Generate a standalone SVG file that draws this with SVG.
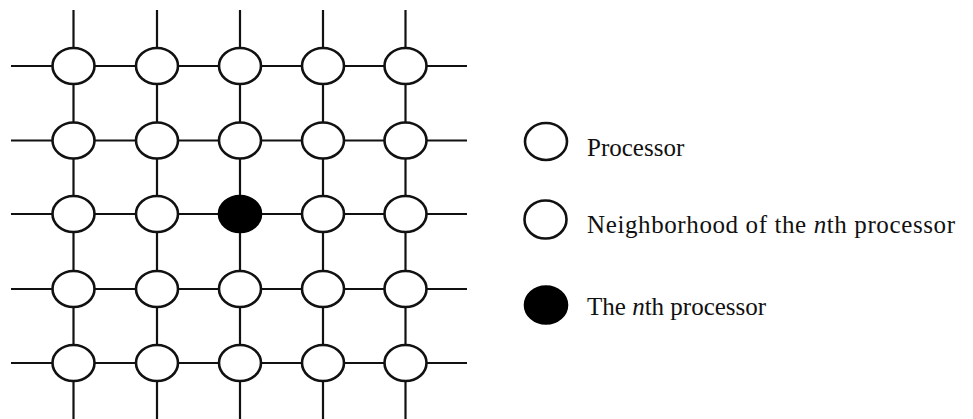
<svg xmlns="http://www.w3.org/2000/svg" width="973" height="419" viewBox="0 0 973 419">
<style>
.ln{stroke:#111;stroke-width:2.2;fill:none}
.p{fill:#fff;stroke:#111;stroke-width:2.6}
.n{fill:#000;stroke:#000;stroke-width:2.6}
.t{font-family:"Liberation Serif","Times New Roman",serif;font-size:25px;fill:#111}
</style>
<defs>
<ellipse id="pe" cx="0" cy="0" rx="21" ry="18"/>
</defs>
<rect width="973" height="419" fill="#fff"/>
<g id="connectors" class="ln">
<line x1="11" y1="66" x2="467" y2="66"/>
<line x1="11" y1="140.5" x2="467" y2="140.5"/>
<line x1="11" y1="214" x2="467" y2="214"/>
<line x1="11" y1="289" x2="467" y2="289"/>
<line x1="11" y1="363" x2="467" y2="363"/>
<line x1="73.5" y1="10" x2="73.5" y2="419"/>
<line x1="157" y1="10" x2="157" y2="419"/>
<line x1="240" y1="10" x2="240" y2="419"/>
<line x1="323" y1="10" x2="323" y2="419"/>
<line x1="405.5" y1="10" x2="405.5" y2="419"/>
</g>
<g id="r1">
<g id="n11"><use href="#pe" class="p" x="73.5" y="66"/></g>
<g id="n12"><use href="#pe" class="p" x="157" y="66"/></g>
<g id="n13"><use href="#pe" class="p" x="240" y="66"/></g>
<g id="n14"><use href="#pe" class="p" x="323" y="66"/></g>
<g id="n15"><use href="#pe" class="p" x="405.5" y="66"/></g>
</g>
<g id="r2">
<g id="n21"><use href="#pe" class="p" x="73.5" y="140.5"/></g>
<g id="n22"><use href="#pe" class="p" x="157" y="140.5"/></g>
<g id="n23"><use href="#pe" class="p" x="240" y="140.5"/></g>
<g id="n24"><use href="#pe" class="p" x="323" y="140.5"/></g>
<g id="n25"><use href="#pe" class="p" x="405.5" y="140.5"/></g>
</g>
<g id="r3">
<g id="n31"><use href="#pe" class="p" x="73.5" y="214"/></g>
<g id="n32"><use href="#pe" class="p" x="157" y="214"/></g>
<g id="n33"><use href="#pe" class="n" x="240" y="214"/></g>
<g id="n34"><use href="#pe" class="p" x="323" y="214"/></g>
<g id="n35"><use href="#pe" class="p" x="405.5" y="214"/></g>
</g>
<g id="r4">
<g id="n41"><use href="#pe" class="p" x="73.5" y="289"/></g>
<g id="n42"><use href="#pe" class="p" x="157" y="289"/></g>
<g id="n43"><use href="#pe" class="p" x="240" y="289"/></g>
<g id="n44"><use href="#pe" class="p" x="323" y="289"/></g>
<g id="n45"><use href="#pe" class="p" x="405.5" y="289"/></g>
</g>
<g id="r5">
<g id="n51"><use href="#pe" class="p" x="73.5" y="363"/></g>
<g id="n52"><use href="#pe" class="p" x="157" y="363"/></g>
<g id="n53"><use href="#pe" class="p" x="240" y="363"/></g>
<g id="n54"><use href="#pe" class="p" x="323" y="363"/></g>
<g id="n55"><use href="#pe" class="p" x="405.5" y="363"/></g>
</g>
<g id="legend">
<g id="leg-processor">
<ellipse class="p" cx="546" cy="141.5" rx="21" ry="18.5"/>
<text class="t" x="587" y="156">Processor</text>
</g>
<g id="leg-neighborhood">
<ellipse class="p" cx="545.5" cy="219.5" rx="21" ry="19"/>
<text class="t" x="587" y="233" textLength="368" lengthAdjust="spacing">Neighborhood of the <tspan font-style="italic">n</tspan>th processor</text>
</g>
<g id="leg-nth">
<ellipse class="n" cx="546" cy="305" rx="21" ry="18.5"/>
<text class="t" x="587" y="315">The <tspan font-style="italic">n</tspan>th processor</text>
</g>
</g>
</svg>
